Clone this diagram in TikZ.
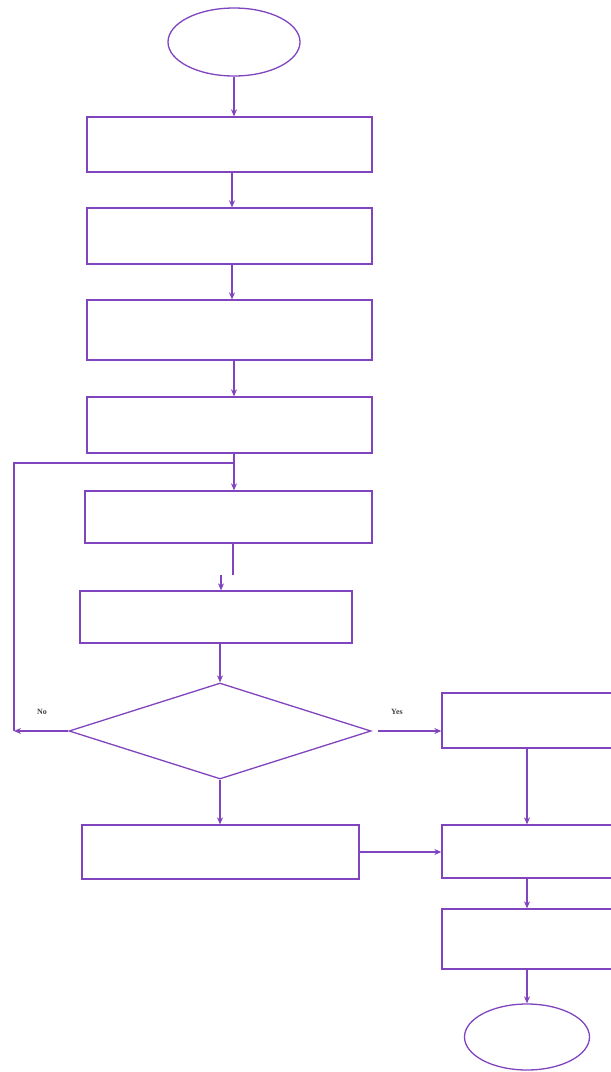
\documentclass[tikz,border=0pt]{standalone}
\usepackage{fontspec}
\setmainfont{Liberation Serif}
\usetikzlibrary{shapes.geometric,arrows.meta}
\definecolor{fc}{RGB}{128,68,190}
\begin{document}
\begin{tikzpicture}[x=1pt,y=-1pt,
  ln/.style={draw=fc,line width=1.3pt},
  boxx/.style={draw=fc,line width=1.3pt,rectangle,inner sep=0pt},
  term/.style={draw=fc,line width=1.3pt,ellipse,inner sep=0pt},
  arr/.style={ln,-{Stealth[length=7pt,width=6pt]}},
  lbl/.style={font=\fontsize{8}{9}\selectfont\bfseries,text=black!75,inner sep=0pt}]
\useasboundingbox (0,0) rectangle (611,1072);
\clip (0,0) rectangle (611,1072);
\node[term,minimum width=132pt,minimum height=68pt] (start) at (234,42) {};
\node[boxx,minimum width=285pt,minimum height=55pt] (b1) at (229.5,144.5) {};
\node[boxx,minimum width=285pt,minimum height=56pt] (b2) at (229.5,236) {};
\node[boxx,minimum width=285pt,minimum height=60pt] (b3) at (229.5,330) {};
\node[boxx,minimum width=285pt,minimum height=56pt] (b4) at (229.5,425) {};
\node[boxx,minimum width=287pt,minimum height=52pt] (b5) at (228.5,517) {};
\node[boxx,minimum width=272pt,minimum height=52pt] (b6) at (216,617) {};
\node[draw=fc,line width=1.3pt,diamond,inner sep=0pt,aspect=3.15,minimum width=302pt,minimum height=96pt] (dia) at (220,731) {};
\node[boxx,minimum width=277pt,minimum height=54pt] (b7) at (220.5,852) {};
\node[boxx,minimum width=258pt,minimum height=55pt] (r1) at (571,720.5) {};
\node[boxx,minimum width=258pt,minimum height=53pt] (r2) at (571,851.5) {};
\node[boxx,minimum width=258pt,minimum height=60pt] (r3) at (571,939) {};
\node[term,minimum width=125pt,minimum height=66pt] (end) at (527,1037) {};
\node[lbl] (no) at (42,712) {No};
\node[lbl] (yes) at (397,712) {Yes};
\coordinate (j) at (234,463);
\coordinate (noend) at (14,731);
\coordinate (g1) at (233,575);
\coordinate (g2) at (221,575);
\coordinate (ys) at (378,731);
\coordinate (c1) at (232,0);
% connectors
\draw[arr] (start.south) -- (start.south |- b1.north);
\draw[arr] (c1 |- b1.south) -- (c1 |- b2.north);
\draw[arr] (c1 |- b2.south) -- (c1 |- b3.north);
\draw[arr] (j |- b3.south) -- (j |- b4.north);
\draw[arr] (j |- b4.south) -- (j |- b5.north);
\draw[ln] (noend) -- (noend |- j) -- (j);
\draw[ln] (g1 |- b5.south) -- (g1);
\draw[arr] (g2) -- (g2 |- b6.north);
\draw[arr] (dia.north |- b6.south) -- (dia.north);
\draw[arr] (dia.west) -- (noend);
\draw[arr] (ys) -- (ys -| r1.west);
\draw[arr] (dia.south) -- (dia.south |- b7.north);
\draw[arr] (b7.east) -- (b7.east -| r2.west);
\draw[arr] (end.north |- r1.south) -- (end.north |- r2.north);
\draw[arr] (end.north |- r2.south) -- (end.north |- r3.north);
\draw[arr] (end.north |- r3.south) -- (end.north);
\end{tikzpicture}
\end{document}
